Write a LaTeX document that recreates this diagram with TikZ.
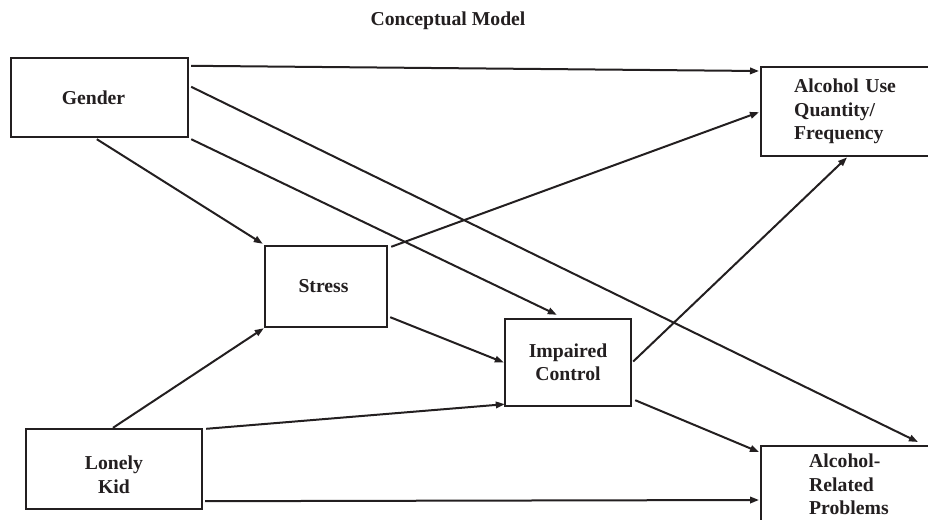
\documentclass[tikz,border=0pt]{standalone}
\usepackage{fontspec}
\setmainfont{Liberation Serif}
\usepackage{xcolor}
\usepackage{tikz}
\usetikzlibrary{arrows.meta,calc}
\definecolor{ink}{HTML}{231F20}
\tikzset{
  font=\fontsize{19.7}{23.5}\selectfont\bfseries,
  >={Triangle[length=9pt,width=6.5pt]},
  box/.style={
    draw=ink, line width=2.4pt, fill=white, text=ink, align=center,
    inner sep=0pt
  },
  openbox/.style={
    box, align=left, anchor=north west
  },
  flow/.style={->, line width=2pt, draw=ink},
  title/.style={text=ink}
}

\begin{document}
\begin{tikzpicture}[x=1pt,y=-1pt]
  \useasboundingbox (0,0) rectangle (928,519);

  % ---- Title ----
  \node[title] (ttl) at (448,21) {Conceptual Model};

  % ---- Predictors ----
  \node[box, minimum width=177pt, minimum height=79pt] (gender) at (99.5,97.5) {Gender\hspace{12pt}};
  \node[box, minimum width=176pt, minimum height=80pt] (lonely) at (114,469)
     {\rule{0pt}{25pt}Lonely\hspace{8pt}\\Kid\hspace{8pt}};

  % ---- Mediators ----
  \node[box, minimum width=122pt, minimum height=81pt] (stress) at (326,286.5) {Stress\hspace{5pt}};
  \node[box, minimum width=126pt, minimum height=87pt] (impair) at (568,362.5) {Impaired\\Control};

  % ---- Outcomes (run off the right edge) ----
  \node[openbox, text width=147pt, inner xsep=33pt, minimum height=89pt] (alcuse) at (760,66)
     {Alcohol Use\\Quantity/\\Frequency};
  \node[openbox, text width=100pt, inner xsep=48pt, inner ysep=8pt] (alcrel) at (760,445)
     {Alcohol-\\Related\\Problems};

  % ---- Edges ----
  \draw[flow] ($(gender.north east)+(2,9)$) -- ($(alcuse.north west)+(-1,5)$);
  \draw[flow] ($(gender.north east)+(2,30)$) -- ($(alcrel.north west)+(158,-3)$);
  \draw[flow] ($(gender.south east)+(2,1)$) -- ($(impair.north west)+(53,-3)$);
  \draw[flow] ($(gender.south west)+(87,1)$) -- ($(stress.north west)+(-1,-1)$);

  \draw[flow] ($(stress.north east)+(3,2)$) -- ($(alcuse.west)+(-1,0.5)$);
  \draw[flow] ($(stress.south east)+(2,-11)$) -- (impair.west);

  \draw[flow] ($(lonely.north)+(-1,0)$) -- (stress.south west);
  \draw[flow] ($(lonely.north east)+(3,1)$) -- ($(impair.south west)+(1,-3)$);
  \draw[flow] ($(lonely.south east)+(2,-9)$) -- ($(alcrel.north west)+(-1,55)$);

  \draw[flow] ($(impair.east)+(1,-1)$) -- ($(alcuse.south west)+(87,0)$);
  \draw[flow] ($(impair.south east)+(3,-7)$) -- ($(alcrel.north west)+(-1,7)$);
\end{tikzpicture}
\end{document}
